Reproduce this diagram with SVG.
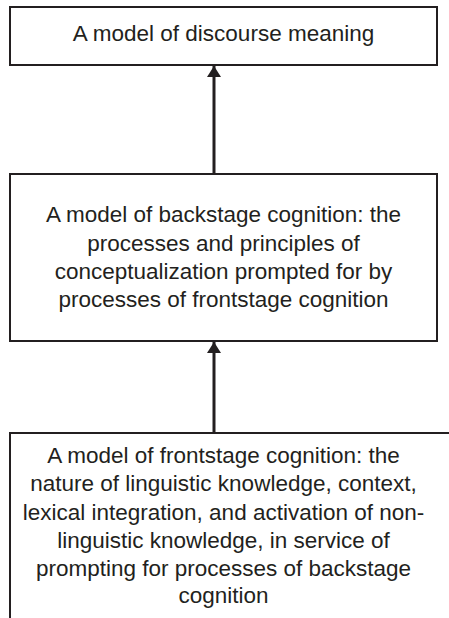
<svg xmlns="http://www.w3.org/2000/svg" width="449" height="618" viewBox="0 0 449 618">
  <style>
    .box { fill: #ffffff; stroke: #231f20; stroke-width: 2; }
    .label { font-family: "Liberation Sans", Arial, sans-serif; font-size: 22.5px; fill: #231f20; text-anchor: middle; }
    .link { stroke: #231f20; stroke-width: 3; fill: none; }
  </style>
  <defs>
    <!-- arrowhead drawn pointing along +x so orient="auto" follows the line -->
    <marker id="head" viewBox="0 0 11 14" refX="11" refY="7" markerWidth="11" markerHeight="14" markerUnits="userSpaceOnUse" orient="auto">
      <path d="M0,0 L11,7 L0,14 Z" fill="#231f20"/>
    </marker>
  </defs>

  <rect width="449" height="618" fill="#ffffff"/>

  <g id="discourse-meaning">
    <rect class="box" x="10" y="7" width="427" height="58"/>
    <text class="label" x="223.5" y="41">A model of discourse meaning</text>
  </g>

  <g id="backstage-cognition">
    <rect class="box" x="10" y="174" width="427" height="167"/>
    <text class="label" x="223.5" y="222">A model of backstage cognition: the</text>
    <text class="label" x="223.5" y="250.5">processes and principles of</text>
    <text class="label" x="223.5" y="278.5">conceptualization prompted for by</text>
    <text class="label" x="223.5" y="306.5">processes of frontstage cognition</text>
  </g>

  <g id="frontstage-cognition">
    <rect class="box" x="10" y="433" width="460" height="220"/>
    <text class="label" x="223.5" y="463">A model of frontstage cognition: the</text>
    <text class="label" x="223.5" y="491">nature of linguistic knowledge, context,</text>
    <text class="label" x="223.5" y="519.5">lexical integration, and activation of non-</text>
    <text class="label" x="223.5" y="547.5">linguistic knowledge, in service of</text>
    <text class="label" x="223.5" y="576">prompting for processes of backstage</text>
    <text class="label" x="223.5" y="603">cognition</text>
  </g>

  <g id="connectors">
    <line class="link" x1="214" y1="173" x2="214" y2="66" marker-end="url(#head)"/>
    <line class="link" x1="214" y1="432" x2="214" y2="342" marker-end="url(#head)"/>
  </g>
</svg>
